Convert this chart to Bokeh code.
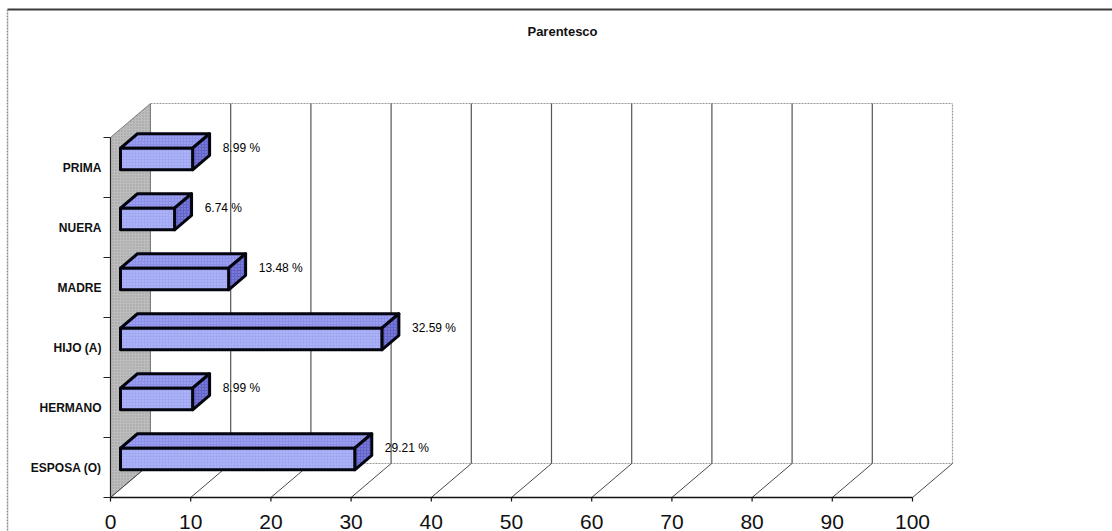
from bokeh.plotting import figure
from bokeh.models import Range1d, ColumnDataSource
from bokeh.embed import file_html
from bokeh.resources import INLINE
from bokeh.core.properties import value

# ---- data -------------------------------------------------------------
title_text = "Parentesco"
categories = ["ESPOSA (O)", "HERMANO", "HIJO (A)", "MADRE", "NUERA", "PRIMA"]
percent = [29.21, 8.99, 32.59, 13.48, 6.74, 8.99]
x_ticks = [0, 10, 20, 30, 40, 50, 60, 70, 80, 90, 100]
x_tick_labels = [str(t) for t in x_ticks]

# ---- layout of the pseudo-3D box ---------------------------------------
W, H = 1112, 531
ORIGIN_X, ORIGIN_Y = 110, 497      # screen position of value 0 / first category edge
PX_PER_VALUE = 8.02                # horizontal pixels per percent point
PX_PER_CAT = 60                    # vertical pixels per category slot
DEPTH_X_PX, DEPTH_Y_PX = 40, 34    # screen shift from front plane to back wall
DX = DEPTH_X_PX / PX_PER_VALUE
DY = DEPTH_Y_PX / PX_PER_CAT
N = len(categories)
VMAX = x_ticks[-1]

BAR_HALF = 0.18
BAR_Z0, BAR_Z1 = 0.25, 0.675

FONT = value("Liberation Sans")


def proj(v, c, z):
    """Oblique projection of (value, category, depth) into data space."""
    return v + z * DX, c + z * DY


def px_x(px):
    return (px - ORIGIN_X) / PX_PER_VALUE


def px_y(py):
    return (ORIGIN_Y - py) / PX_PER_CAT


p = figure(
    width=W, height=H,
    x_range=Range1d(px_x(0), px_x(W)),
    y_range=Range1d(px_y(H), px_y(0)),
    output_backend="svg", toolbar_location=None,
    x_axis_type=None, y_axis_type=None,
    min_border=0, min_border_left=0, min_border_right=0,
    min_border_top=0, min_border_bottom=0,
)
p.grid.visible = False
p.outline_line_color = None
p.background_fill_color = "white"
p.border_fill_color = "white"

# ---- chart area border ---------------------------------------------------
p.segment(x0=[px_x(7)], y0=[px_y(9)], x1=[px_x(W)], y1=[px_y(9)],
          line_color="#3a3a3a", line_width=2)
p.segment(x0=[px_x(7)], y0=[px_y(9)], x1=[px_x(7)], y1=[px_y(H)],
          line_color="#8a8a8a", line_width=1.5, line_dash="2 1")

# ---- left side wall ----------------------------------------------------
wall = [proj(0, 0, 0), proj(0, N, 0), proj(0, N, 1), proj(0, 0, 1)]
p.patch([q[0] for q in wall], [q[1] for q in wall],
        fill_color="#bdbdbd", line_color="#7a7a7a", line_width=1,
        hatch_pattern="dot", hatch_color="#7c7c7c", hatch_scale=3,
        hatch_weight=1, hatch_alpha=0.55)

# ---- back wall and floor -------------------------------------------------
bx0, by0 = proj(0, 0, 1)
bx1, by1 = proj(VMAX, 0, 1)
tx0, ty0 = proj(0, N, 1)
tx1, ty1 = proj(VMAX, N, 1)
p.segment(x0=[bx0, tx0, bx1], y0=[by0, ty0, by1], x1=[bx1, tx1, tx1], y1=[by1, ty1, ty1],
          line_color="#9a9a9a", line_width=1.2, line_dash="2 1")

grid_vals = x_ticks[1:-1]
g0 = [proj(t, 0, 1) for t in grid_vals]
g1 = [proj(t, N, 1) for t in grid_vals]
p.segment(x0=[a[0] for a in g0], y0=[a[1] for a in g0],
          x1=[a[0] for a in g1], y1=[a[1] for a in g1],
          line_color="#555555", line_width=1.2)

f0 = [proj(t, 0, 0) for t in x_ticks]
f1 = [proj(t, 0, 1) for t in x_ticks]
p.segment(x0=[a[0] for a in f0], y0=[a[1] for a in f0],
          x1=[a[0] for a in f1], y1=[a[1] for a in f1],
          line_color="#4a4a4a", line_width=1)

# ---- front value axis ----------------------------------------------------
ax0 = proj(0, 0, 0)
ax1 = proj(VMAX, 0, 0)
p.segment(x0=[ax0[0]], y0=[ax0[1]], x1=[ax1[0]], y1=[ax1[1]],
          line_color="#111111", line_width=1.6)
tick_len = 4 / PX_PER_CAT
p.segment(x0=x_ticks, y0=[0] * len(x_ticks), x1=x_ticks, y1=[-tick_len] * len(x_ticks),
          line_color="#111111", line_width=1.2)
p.text(x=x_ticks, y=[px_y(521)] * len(x_ticks), text=x_tick_labels,
       text_font=FONT, text_font_size="21px", text_color="#111111",
       text_align="center", text_baseline="middle")

# ---- category axis -----------------------------------------------------
cx0 = proj(0, 0, 0)
cx1 = proj(0, N, 0)
p.segment(x0=[cx0[0]], y0=[cx0[1]], x1=[cx1[0]], y1=[cx1[1]],
          line_color="#222222", line_width=1.2)
edges = list(range(N + 1))
cat_tick = 7 / PX_PER_VALUE
p.segment(x0=[0] * len(edges), y0=edges, x1=[-cat_tick] * len(edges), y1=edges,
          line_color="#222222", line_width=1.2)
p.text(x=[px_x(101)] * N, y=[i + 0.5 for i in range(N)], text=categories,
       text_font=FONT, text_font_size="12px", text_font_style="bold",
       text_color="#111111", text_align="right", text_baseline="middle")

# ---- 3D bars -------------------------------------------------------------
front_xs, front_ys, top_xs, top_ys, side_xs, side_ys = [], [], [], [], [], []
for i, val in enumerate(percent):
    lo, hi = i + 0.5 - BAR_HALF, i + 0.5 + BAR_HALF
    front = [proj(0, lo, BAR_Z0), proj(val, lo, BAR_Z0), proj(val, hi, BAR_Z0), proj(0, hi, BAR_Z0)]
    top = [proj(0, hi, BAR_Z0), proj(val, hi, BAR_Z0), proj(val, hi, BAR_Z1), proj(0, hi, BAR_Z1)]
    side = [proj(val, lo, BAR_Z0), proj(val, lo, BAR_Z1), proj(val, hi, BAR_Z1), proj(val, hi, BAR_Z0)]
    front_xs.append([q[0] for q in front]); front_ys.append([q[1] for q in front])
    top_xs.append([q[0] for q in top]); top_ys.append([q[1] for q in top])
    side_xs.append([q[0] for q in side]); side_ys.append([q[1] for q in side])

face_style = dict(line_color="#05050f", line_width=3, line_join="round",
                  hatch_pattern="dot", hatch_color="white", hatch_scale=3,
                  hatch_weight=1, hatch_alpha=0.35)
p.patches(top_xs, top_ys, fill_color="#8c90ea", **face_style)
p.patches(side_xs, side_ys, fill_color="#6264cc", **face_style)
p.patches(front_xs, front_ys, fill_color="#a0a7f3", **face_style)

# ---- value labels -----------------------------------------------------
label_src = ColumnDataSource(dict(
    x=[v + 5.0 for v in percent],
    y=[i + 0.5 + 0.32 for i in range(N)],
    text=[f"{v:.2f} %" for v in percent],
))
p.text(x="x", y="y", text="text", source=label_src,
       text_font=FONT, text_font_size="12px", text_color="#000000",
       text_align="left", text_baseline="middle")

# ---- title ----------------------------------------------------------------
p.text(x=[px_x(562)], y=[px_y(31)], text=[title_text],
       text_font=FONT, text_font_size="13px", text_font_style="bold",
       text_color="#111111", text_align="center", text_baseline="middle")

open("out.html", "w").write(file_html(p, INLINE))
